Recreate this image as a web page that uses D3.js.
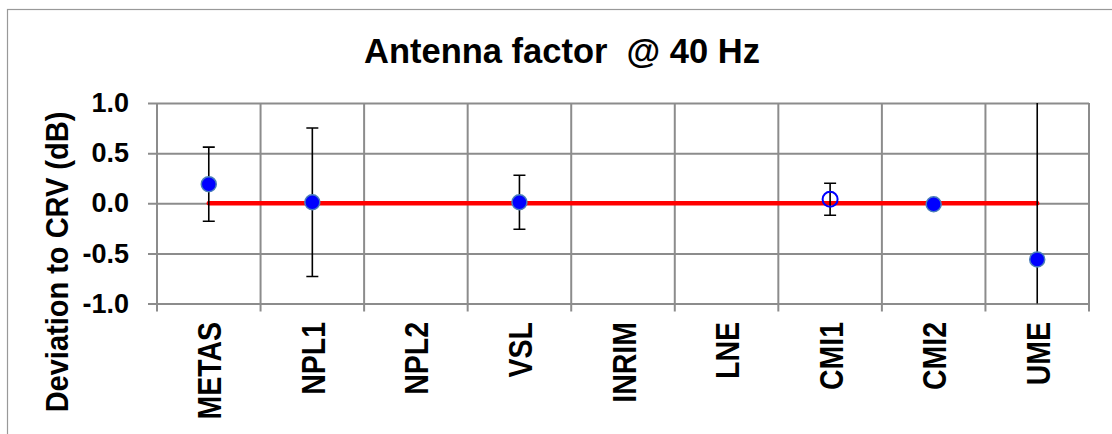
<!DOCTYPE html>
<html>
<head>
<meta charset="utf-8">
<script src="https://cdn.jsdelivr.net/npm/d3@7"></script>
<style>
  html, body { margin: 0; padding: 0; background: #fff; }
  text { font-family: Arial, "Liberation Sans", sans-serif; font-weight: bold; fill: #000; }
</style>
</head>
<body>
<div id="chart"></div>
<script>
"use strict";

const width = 1112;
const height = 434;

// data
const labs = ["METAS", "NPL1", "NPL2", "VSL", "INRIM", "LNE", "CMI1", "CMI2", "UME"];
const deviation = [0.19, 0.01, null, 0.01, null, null, 0.04, -0.01, -0.56];
const uncertainty = [0.37, 0.74, null, 0.27, null, null, 0.16, null, 1.6];
const hollow = [false, false, false, false, false, false, true, false, false];
const refLine = [0, 0, 0, 0, 0, 0, 0, 0, 0];
const yTicks = [-1.0, -0.5, 0.0, 0.5, 1.0];

const margin = { top: 103, right: 23, bottom: 130, left: 157 };

const svg = d3.select("#chart").append("svg")
  .attr("width", width)
  .attr("height", height);

// chart frame
svg.append("rect")
  .attr("x", 7.5)
  .attr("y", 9.5)
  .attr("width", width + 10)
  .attr("height", height + 10)
  .attr("fill", "none")
  .attr("stroke", "#999")
  .attr("stroke-width", 1.2);

const x = d3.scaleBand()
  .domain(labs)
  .range([margin.left, width - margin.right]);

const y = d3.scaleLinear()
  .domain([-1, 1])
  .range([height - margin.bottom - 0.5, margin.top]);

const clip = svg.append("defs").append("clipPath").attr("id", "plot");
clip.append("rect")
  .attr("x", margin.left)
  .attr("y", margin.top)
  .attr("width", width - margin.right - margin.left)
  .attr("height", y(-1) - margin.top);

// horizontal grid + y axis
const yAxis = svg.append("g")
  .attr("transform", "translate(" + margin.left + ",0)")
  .call(d3.axisLeft(y)
    .tickValues(yTicks)
    .tickSize(-(width - margin.right - margin.left))
    .tickPadding(28)
    .tickFormat(d => d.toFixed(1))); // plain hyphen, like the original

yAxis.select(".domain").remove();
yAxis.selectAll(".tick line")
  .attr("x1", -9)
  .attr("stroke", "#8c8c8c")
  .attr("stroke-width", 2);
yAxis.selectAll(".tick text")
  .style("font-size", "27px")
  .style("font-family", "Arial, 'Liberation Sans', sans-serif")
  .style("font-weight", "bold")
  .attr("fill", "#000");

// vertical grid lines at category boundaries
const bounds = labs.map(d => x(d)).concat([x.range()[1]]);
svg.append("g")
  .selectAll("line")
  .data(bounds)
  .join("line")
  .attr("x1", d => d)
  .attr("x2", d => d)
  .attr("y1", margin.top)
  .attr("y2", y(-1) + 8)
  .attr("stroke", "#8c8c8c")
  .attr("stroke-width", 2);

// x labels (the original renders them a bit wider than tall)
svg.append("g")
  .selectAll("text")
  .data(labs)
  .join("text")
  .attr("transform", d => "translate(" + (x(d) + x.bandwidth() / 2 + 12.5) + "," + 322 + ") rotate(-90) scale(1,1.18)")
  .attr("text-anchor", "end")
  .style("font-size", "28.5px")
  .text(d => d);

// title (keeps the double space before @)
svg.append("text")
  .attr("x", 562)
  .attr("y", 63)
  .attr("text-anchor", "middle")
  .style("font-size", "34.5px")
  .style("white-space", "pre")
  .text("Antenna factor  @ 40 Hz");

// y label
svg.append("text")
  .attr("transform", "translate(68,262) rotate(-90) scale(1,1.08)")
  .attr("text-anchor", "middle")
  .style("font-size", "29px")
  .text("Deviation to CRV (dB)");

const cx = d => x(d) + x.bandwidth() / 2;

const plot = svg.append("g").attr("clip-path", "url(#plot)");

// reference line
plot.append("path")
  .datum(labs.map((d, i) => [cx(d), y(refLine[i])]))
  .attr("d", d3.line())
  .attr("fill", "none")
  .attr("stroke", "#ff0000")
  .attr("stroke-width", 4.5)
  .attr("stroke-linecap", "round");

// error bars
const errs = labs.map((d, i) => ({ lab: d, v: deviation[i], u: uncertainty[i] }))
  .filter(d => d.v != null && d.u != null);

const eb = plot.append("g")
  .selectAll("g")
  .data(errs)
  .join("g")
  .attr("stroke", "#000")
  .attr("stroke-width", 1.6);

eb.append("line")
  .attr("x1", d => cx(d.lab))
  .attr("x2", d => cx(d.lab))
  .attr("y1", d => y(d.v + d.u))
  .attr("y2", d => y(d.v - d.u));

eb.selectAll(".cap")
  .data(d => [d.v + d.u, d.v - d.u].map(e => ({ lab: d.lab, e: e })))
  .join("line")
  .attr("class", "cap")
  .attr("x1", d => cx(d.lab) - 6)
  .attr("x2", d => cx(d.lab) + 6)
  .attr("y1", d => y(d.e))
  .attr("y2", d => y(d.e));

// markers
const pts = labs.map((d, i) => ({ lab: d, v: deviation[i], open: hollow[i] }))
  .filter(d => d.v != null);

svg.append("g")
  .selectAll("circle")
  .data(pts)
  .join("circle")
  .attr("cx", d => cx(d.lab))
  .attr("cy", d => y(d.v))
  .attr("r", 7.5)
  .attr("fill", d => d.open ? "none" : "#0000ff")
  .attr("stroke", d => d.open ? "#0000ff" : "#4a7ebb")
  .attr("stroke-width", d => d.open ? 2 : 1.5);
</script>
</body>
</html>
